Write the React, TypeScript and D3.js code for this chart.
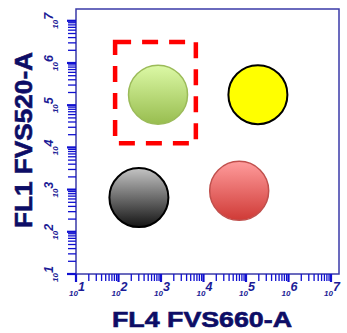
import React, { useRef, useEffect } from "react";
import * as d3 from "d3";

// log10 positions
const populations = ["green", "yellow", "gray", "red"];
const popX = [2.93, 5.28, 2.48, 4.84];
const popY = [5.25, 5.25, 2.81, 2.97];
const popFill = ["gradGreen", "#ffff00", "gradGray", "gradRed"];
const popStroke = ["#9bbb59", "#000000", "#000000", "#c0504d"];
const popStrokeWidth = [1.5, 2, 2, 1.5];

const gateX = [1.92, 3.82];
const gateY = [4.1, 6.5];

const decades = [1, 2, 3, 4, 5, 6, 7];
const xTitle = "FL4 FVS660-A";
const yTitle = "FL1 FVS520-A";

const W = 347;
const H = 333;

const App = () => {
  const ref = useRef<SVGSVGElement>(null);

  useEffect(() => {
    const svg = d3.select(ref.current);
    svg.selectAll("*").remove();

    const left = 76, right = 339, top = 9, bottom = 274;
    const x = d3.scaleLinear().domain([1, 7]).range([left, left + 6 * 42.5]);
    const y = d3.scaleLinear().domain([1, 7]).range([bottom, bottom - 6 * 42.2]);

    const defs = svg.append("defs");
    const grad = (id, c1, c2) => {
      const g = defs.append("linearGradient").attr("id", id)
        .attr("x1", 0).attr("y1", 0).attr("x2", 0).attr("y2", 1);
      g.append("stop").attr("offset", "0%").attr("stop-color", c1);
      g.append("stop").attr("offset", "100%").attr("stop-color", c2);
    };
    grad("gradGreen", "#dcf9a6", "#98bd4f");
    grad("gradGray", "#c4c4c4", "#141414");
    grad("gradRed", "#ff9c9c", "#cf3a36");

    // frame
    svg.append("rect")
      .attr("x", left).attr("y", top)
      .attr("width", right - left).attr("height", bottom - top)
      .attr("fill", "none").attr("stroke", "#3a3aa8").attr("stroke-width", 1.5);

    // log ticks
    const minor = [];
    decades.forEach((d) => {
      if (d < 7) for (let k = 2; k <= 9; k++) minor.push(d + Math.log10(k));
    });
    const tickColor = "#1010d0";
    minor.forEach((v) => {
      svg.append("line").attr("x1", x(v)).attr("x2", x(v))
        .attr("y1", bottom).attr("y2", bottom + 7)
        .attr("stroke", tickColor).attr("stroke-width", 1.3);
      svg.append("line").attr("y1", y(v)).attr("y2", y(v))
        .attr("x1", left).attr("x2", left - 8)
        .attr("stroke", tickColor).attr("stroke-width", 1.3);
    });
    decades.forEach((d) => {
      svg.append("line").attr("x1", x(d)).attr("x2", x(d))
        .attr("y1", bottom).attr("y2", bottom + 8)
        .attr("stroke", tickColor).attr("stroke-width", 2.2);
      svg.append("line").attr("y1", y(d)).attr("y2", y(d))
        .attr("x1", left).attr("x2", left - 9)
        .attr("stroke", tickColor).attr("stroke-width", 2.2);
    });

    const labelColor = "#1c1c96";
    const addLabel = (sel, d) => {
      sel.append("tspan").attr("font-size", 8).text("10");
      sel.append("tspan").attr("font-size", 12.5).attr("dy", -5).text(d);
    };
    decades.forEach((d) => {
      const t = svg.append("text")
        .attr("x", x(d) + 1).attr("y", 296)
        .attr("text-anchor", "middle")
        .attr("font-family", "Liberation Sans, Arial, sans-serif")
        .attr("font-style", "italic").attr("font-weight", "bold")
        .attr("fill", labelColor);
      addLabel(t, d);
      const ty = svg.append("text")
        .attr("transform", `translate(58,${y(d)}) rotate(-90)`)
        .attr("text-anchor", "middle")
        .attr("font-family", "Liberation Sans, Arial, sans-serif")
        .attr("font-style", "italic").attr("font-weight", "bold")
        .attr("fill", labelColor);
      addLabel(ty, d);
    });

    // populations
    populations.forEach((p, i) => {
      const f = popFill[i];
      svg.append("circle")
        .attr("cx", x(popX[i])).attr("cy", y(popY[i])).attr("r", 29.5)
        .attr("fill", f.startsWith("grad") ? `url(#${f})` : f)
        .attr("stroke", popStroke[i]).attr("stroke-width", popStrokeWidth[i]);
    });

    // gate
    svg.append("rect")
      .attr("x", x(gateX[0])).attr("y", y(gateY[1]))
      .attr("width", x(gateX[1]) - x(gateX[0]))
      .attr("height", y(gateY[0]) - y(gateY[1]))
      .attr("fill", "none").attr("stroke", "#ff0000")
      .attr("stroke-width", 4.5).attr("stroke-dasharray", "16 11");

    // titles
    const titleColor = "#0d0d66";
    svg.append("text")
      .attr("x", 202).attr("y", 327)
      .attr("text-anchor", "middle")
      .attr("font-family", "Liberation Sans, Arial, sans-serif")
      .attr("font-weight", "bold").attr("font-size", 22)
      .attr("textLength", 180).attr("lengthAdjust", "spacingAndGlyphs")
      .attr("stroke", titleColor).attr("stroke-width", 0.6)
      .attr("fill", titleColor).text(xTitle);
    svg.append("text")
      .attr("transform", `translate(32,140) rotate(-90)`)
      .attr("text-anchor", "middle")
      .attr("font-family", "Liberation Sans, Arial, sans-serif")
      .attr("font-weight", "bold").attr("font-size", 23)
      .attr("textLength", 176).attr("lengthAdjust", "spacingAndGlyphs")
      .attr("stroke", titleColor).attr("stroke-width", 0.6)
      .attr("fill", titleColor).text(yTitle);
  }, []);

  return (
    <svg ref={ref} width={W} height={H}
      style={{ position: "absolute", left: 0, top: 0, background: "#fff" }} />
  );
};

export default App;
